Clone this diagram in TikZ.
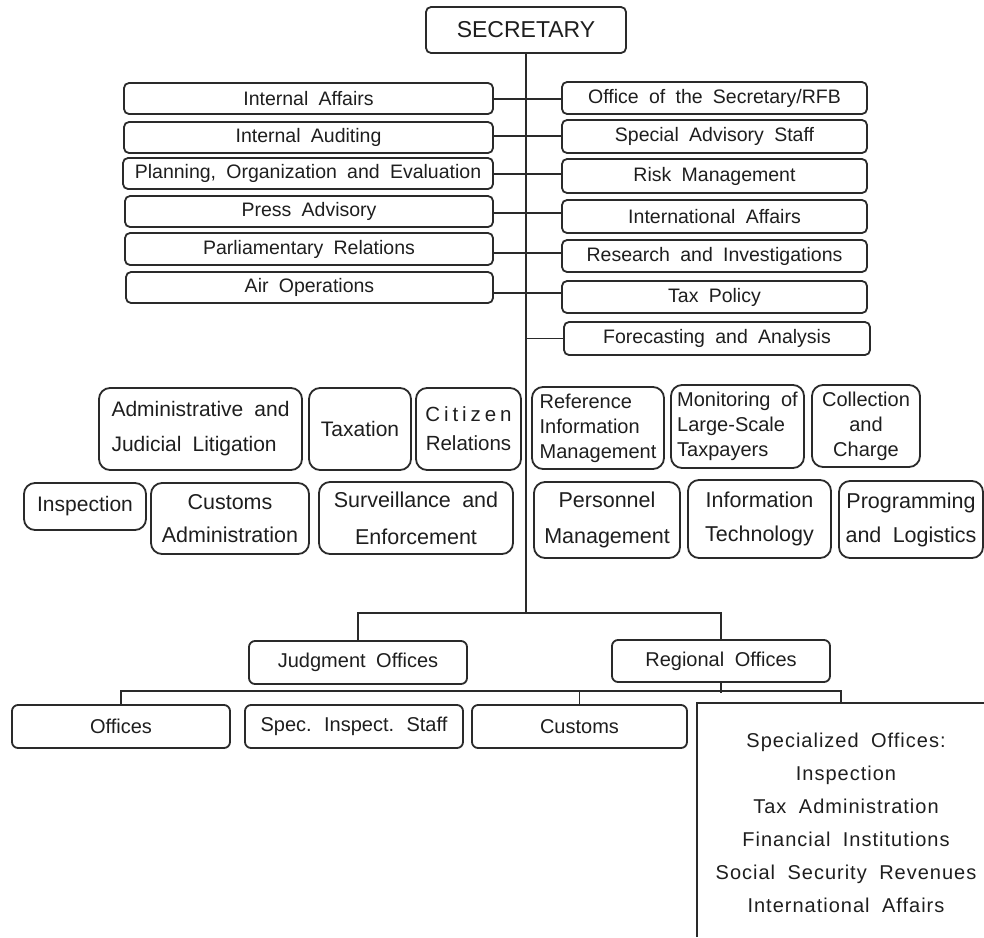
\documentclass[tikz,border=0pt]{standalone}
\usepackage{fontspec}
\setmainfont{Liberation Sans}[WordSpace=1.9]
\definecolor{ln}{HTML}{2A2A2A}
\definecolor{tx}{HTML}{1E1E1E}
\tikzset{
 base/.style={draw=ln, line width=1.8pt, text=tx, inner sep=0pt},
 tbox/.style={base, rounded corners=5pt, font=\fontsize{19.5}{23}\selectfont},
 mbox/.style={base, rounded corners=11pt, font=\fontsize{21}{35}\selectfont, align=center},
 lbox/.style={base, rounded corners=11pt, font=\fontsize{20}{25}\selectfont, align=left},
 cbox/.style={base, rounded corners=11pt, font=\fontsize{20}{25}\selectfont, align=center},
 bbox/.style={base, rounded corners=6pt, font=\fontsize{20}{24}\selectfont},
 conn/.style={draw=ln, line width=1.8pt},
}
\newcommand\bx[7]{\node[#2, minimum width={(#5)-(#3)}, minimum height={(#6)-(#4)}] (#1) at ({((#3)+(#5))/2},{((#4)+(#6))/2}) {#7};}
\begin{document}
\begin{tikzpicture}[x=1pt,y=-1pt]
\useasboundingbox (0,0) rectangle (984,937);
% top
\bx{sec}{tbox,font=\fontsize{23}{27}\selectfont}{426}{7}{626}{53}{SECRETARY}
% left column
\bx{ia}{tbox}{124}{83}{493}{114}{Internal Affairs}
\bx{iau}{tbox}{124}{122}{493}{153}{Internal Auditing}
\bx{poe}{tbox}{123}{158}{493}{189}{Planning, Organization and Evaluation}
\bx{pa}{tbox}{125}{196}{493}{227}{Press Advisory}
\bx{prl}{tbox}{125}{233}{493}{265}{Parliamentary Relations}
\bx{ao}{tbox}{126}{272}{493}{303}{Air Operations}
% right column
\bx{osr}{tbox}{562}{82}{867}{114}{Office of the Secretary/RFB}
\bx{sas}{tbox}{562}{120}{867}{153}{Special Advisory Staff}
\bx{rm}{tbox}{562}{159}{867}{193}{Risk Management}
\bx{iaf}{tbox}{562}{200}{867}{233}{International Affairs}
\bx{ri}{tbox}{562}{240}{867}{272}{Research and Investigations}
\bx{tp}{tbox}{562}{281}{867}{313}{Tax Policy}
\bx{fa}{tbox}{564}{322}{870}{355}{Forecasting and Analysis}
% connectors top
\coordinate (r1) at (526,99);
\coordinate (r2) at (526,136);
\coordinate (r3) at (526,174);
\coordinate (r4) at (526,213);
\coordinate (r5) at (526,253);
\coordinate (r6) at (526,293);
\draw[conn] (ia.east |- r1) -- (osr.west |- r1);
\draw[conn] (iau.east |- r2) -- (sas.west |- r2);
\draw[conn] (poe.east |- r3) -- (rm.west |- r3);
\draw[conn] (pa.east |- r4) -- (iaf.west |- r4);
\draw[conn] (prl.east |- r5) -- (ri.west |- r5);
\draw[conn] (ao.east |- r6) -- (tp.west |- r6);
\draw[conn] (fa.west) -- (fa.west -| sec.south);
% middle left
\bx{ajl}{lbox,font=\fontsize{21}{35}\selectfont}{99}{388}{302}{470}{Administrative and\\Judicial Litigation}
\bx{tax}{mbox}{309}{388}{411}{470}{Taxation}
\bx{cr}{mbox,font=\fontsize{20.5}{29}\selectfont}{416}{388}{521}{470}{{\addfontfeature{LetterSpace=19}Citizen}\\Relations}
\bx{insp}{mbox}{24}{483}{146}{530}{Inspection}
\bx{ca}{mbox,font=\fontsize{21.5}{33}\selectfont}{151}{483}{309}{554}{Customs\\Administration}
\bx{se}{mbox,font=\fontsize{21.5}{37}\selectfont}{319}{482}{513}{554}{Surveillance and\\Enforcement}
% middle right
\bx{rim}{lbox}{532}{387}{664}{469}{Reference\\Information\\Management}
\bx{mlt}{lbox}{671}{385}{804}{468}{Monitoring of\\Large-Scale\\Taxpayers}
\bx{cc}{cbox}{812}{385}{920}{467}{Collection\\and\\Charge}
\bx{pm}{mbox,font=\fontsize{21.5}{36}\selectfont}{534}{482}{680}{558}{Personnel\\Management}
\bx{it}{mbox,font=\fontsize{21.5}{34}\selectfont}{688}{480}{831}{558}{Information\\Technology}
\bx{pl}{mbox,font=\fontsize{21.5}{34}\selectfont}{839}{481}{983}{558}{Programming\\and Logistics}
% bottom
\bx{judg}{bbox}{249}{641}{467}{684}{Judgment Offices}
\bx{reg}{bbox}{612}{640}{830}{682}{Regional Offices}
\bx{off}{bbox}{12}{705}{230}{748}{Offices}
\bx{sis}{bbox}{245}{705}{463}{748}{Spec. Inspect. Staff}
\bx{cus}{bbox}{472}{705}{687}{748}{Customs}
\draw[conn] (697,937) |- (984,703);
\node[text=tx, inner sep=0pt, align=center, font=\fontsize{20}{33}\selectfont\addfontfeature{LetterSpace=5}] (spec) at (846,823)
 {Specialized Offices:\\Inspection\\Tax Administration\\Financial Institutions\\Social Security Revenues\\International Affairs};
\coordinate (spectop) at (841,703);
% connectors bottom
\draw[conn] (sec.south) -- ([yshift=27pt]sec.south |- judg.north);
\draw[conn] (judg.north) -- ++(0,-27) -| (reg.north);
\draw[conn] (reg.south) -- ++(0,10);
\draw[conn] (off.north) -- ++(0,-13) -| (spectop);
\draw[conn] (cus.north) -- ++(0,-13);
\end{tikzpicture}
\end{document}
